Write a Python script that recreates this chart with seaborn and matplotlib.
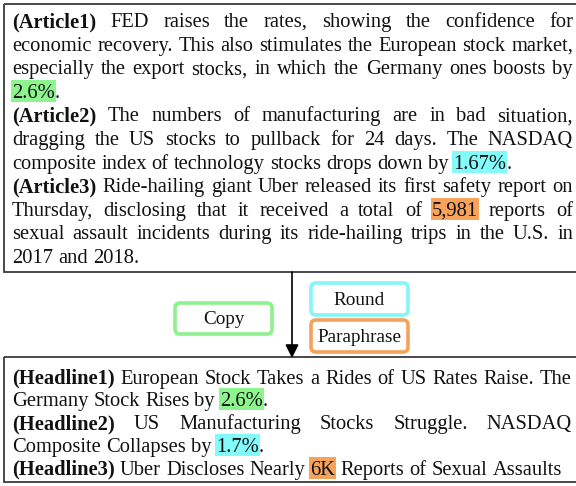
import re
import matplotlib
matplotlib.use("Agg")
import matplotlib.pyplot as plt
import seaborn as sns
from matplotlib.patches import Rectangle, FancyBboxPatch

sns.set_theme(style="white")
plt.rcParams["font.family"] = ["Liberation Serif", "DejaVu Serif"]

FS = 14.8
FS_OP = 13.8
HIGHLIGHT = {"g": "#8df58d", "c": "#84fbfb", "o": "#f7a35c"}

# text of the two panels; **bold**, [color:highlighted]
ARTICLE_LINES = [
    "**(Article1)** FED raises the rates, showing the confidence for",
    "economic recovery. This also stimulates the European stock market,",
    "especially the export stocks, in which the Germany ones boosts by",
    "[g:2.6%].",
    "**(Article2)** The numbers of manufacturing are in bad situation,",
    "dragging the US stocks to pullback for 24 days. The NASDAQ",
    "composite index of technology stocks drops down by [c:1.67%].",
    "**(Article3)** Ride-hailing giant Uber released its first safety report on",
    "Thursday, disclosing that it received a total of [o:5,981] reports of",
    "sexual assault incidents during its ride-hailing trips in the U.S. in",
    "2017 and 2018.",
]
ARTICLE_JUSTIFY = [True, True, True, False, True, True, False, True, True, True, False]

HEADLINE_LINES = [
    "**(Headline1)** European Stock Takes a Rides of US Rates Raise. The",
    "Germany Stock Rises by [g:2.6%].",
    "**(Headline2)** US Manufacturing Stocks Struggle. NASDAQ",
    "Composite Collapses by [c:1.7%].",
    "**(Headline3)** Uber Discloses Nearly [o:6K] Reports of Sexual Assaults",
]
HEADLINE_JUSTIFY = [True, False, True, False, False]

OPERATIONS = ["Copy", "Round", "Paraphrase"]
OP_COLORS = ["#8ef08e", "#86f5f8", "#f5a25b"]

TOKEN = re.compile(r"\*\*(.+?)\*\*|\[(\w):(.+?)\]|([^\*\[]+)")

fig = plt.figure(figsize=(5.76, 4.86), dpi=100)
ax = fig.add_axes([0, 0, 1, 1])
ax.set_xlim(0, 576)
ax.set_ylim(486, 0)
ax.axis("off")
renderer = fig.canvas.get_renderer()


def text_width(s, weight="normal"):
    t = ax.text(0, 0, s, fontsize=FS, fontweight=weight)
    w = t.get_window_extent(renderer).width
    t.remove()
    return w


SPACE = text_width("a a") - text_width("aa")


def parse_word(word):
    runs = []
    for m in TOKEN.finditer(word):
        if m.group(1):
            runs.append((m.group(1), "bold", None))
        elif m.group(2):
            runs.append((m.group(3), "normal", m.group(2)))
        else:
            runs.append((m.group(4), "normal", None))
    return runs


def draw_paragraph(lines, justify, x0, x1, y_first, dy):
    for i, (line, just) in enumerate(zip(lines, justify)):
        base = y_first + i * dy
        words = [parse_word(w) for w in line.split(" ")]
        widths = [[text_width(s, wt) for s, wt, _ in runs] for runs in words]
        total = sum(sum(w) for w in widths)
        gap = (x1 - x0 - total) / (len(words) - 1) if just and len(words) > 1 else SPACE
        x = x0
        for runs, ws in zip(words, widths):
            for (s, wt, hl), w in zip(runs, ws):
                if hl:
                    ax.add_patch(Rectangle((x - 1, base - 18), w + 2, 22,
                                           facecolor=HIGHLIGHT[hl], edgecolor="none", zorder=1))
                ax.text(x, base, s, fontsize=FS, fontweight=wt, va="baseline",
                        ha="left", color="#111111", zorder=2)
                x += w
            x += gap


# panels
ax.add_patch(Rectangle((4, 4), 590, 268, facecolor="none", edgecolor="#3a3a3a", lw=1.3))
ax.add_patch(Rectangle((4, 357), 590, 125, facecolor="none", edgecolor="#3a3a3a", lw=1.3))

draw_paragraph(ARTICLE_LINES, ARTICLE_JUSTIFY, 12, 573, 27, 23.6)
draw_paragraph(HEADLINE_LINES, HEADLINE_JUSTIFY, 12, 572, 383.5, 22.8)

# arrow from articles to headlines
ax.annotate("", xy=(292, 358), xytext=(292, 272),
            arrowprops=dict(arrowstyle="-|>", color="black", lw=1.2,
                            mutation_scale=20, shrinkA=0, shrinkB=0))

# operation boxes
op_boxes = [(175, 303, 97, 31), (311, 283, 97, 32), (311, 320, 97, 32)]
for label, color, (bx, by, bw, bh) in zip(OPERATIONS, OP_COLORS, op_boxes):
    ax.add_patch(FancyBboxPatch((bx, by), bw, bh,
                                boxstyle="round,pad=0,rounding_size=5",
                                facecolor="white", edgecolor=color, lw=2.6))
    ax.text(bx + bw / 2, by + bh / 2 + 1, label, fontsize=FS_OP, ha="center",
            va="center", color="#111111")

fig.savefig("out.png", dpi=100)
